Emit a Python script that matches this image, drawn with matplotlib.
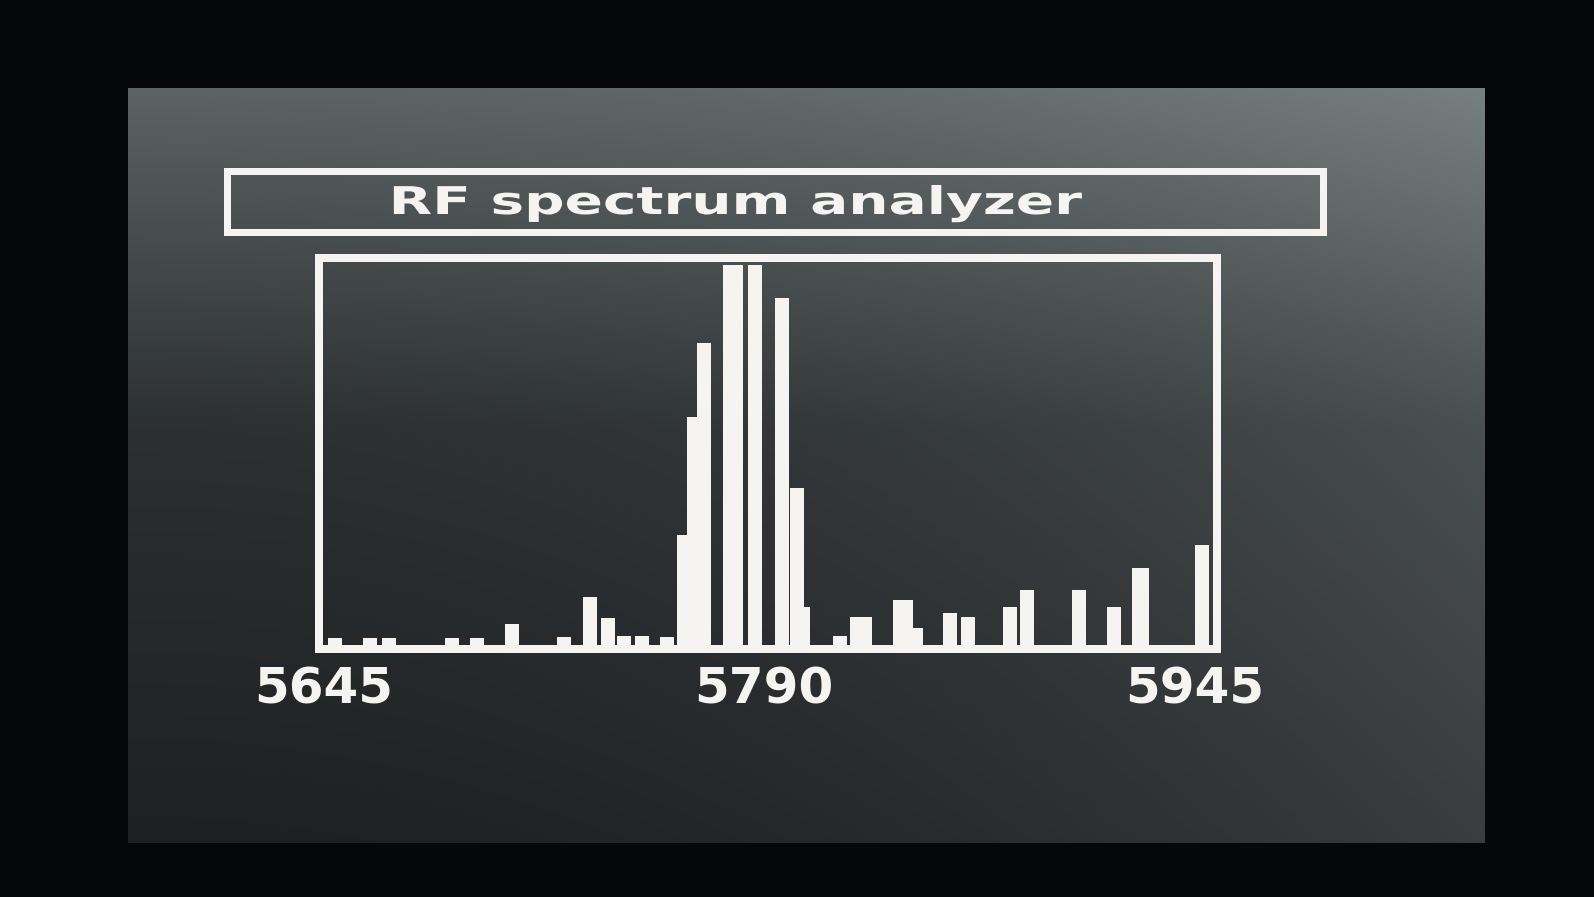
import numpy as np
import matplotlib
matplotlib.use("Agg")
import matplotlib.pyplot as plt
from matplotlib.patches import Rectangle
from matplotlib.patheffects import AbstractPathEffect
from matplotlib.transforms import Affine2D, ScaledTranslation

# ---- data ----
title_text = "RF spectrum analyzer"
freqs_mhz = [5646.7, 5658.5, 5664.9, 5686.2, 5694.6, 5706.4, 5724.0, 5732.7,
             5738.8, 5744.2, 5750.3, 5758.7, 5764.4, 5767.8, 5771.2, 5780.0,
             5782.0, 5788.4, 5797.5, 5802.6, 5804.6, 5817.1, 5822.8, 5825.5,
             5837.4, 5839.4, 5842.7, 5854.2, 5860.3, 5874.5, 5880.2, 5897.8,
             5909.6, 5918.0, 5919.0, 5939.3]
levels = [1.8, 1.8, 1.8, 1.8, 1.8, 5.5, 2.1, 12.6,
          7.1, 2.4, 2.4, 2.1, 29.0, 60.0, 79.5, 100.0,
          100.0, 100.0, 91.3, 41.3, 10.0, 2.4, 7.4, 7.4,
          11.8, 11.8, 4.5, 8.4, 7.4, 10.0, 14.5, 14.5,
          10.0, 20.3, 20.3, 26.3]
tick_values = [5645, 5790, 5945]
tick_labels = ["5645", "5790", "5945"]

WHITE = "#f6f4f0"


class HStretch(AbstractPathEffect):
    """Stretch drawn text horizontally about a display x position."""
    def __init__(self, sx, cx):
        super().__init__()
        self.sx, self.cx = sx, cx

    def draw_path(self, renderer, gc, tpath, affine, rgbFace=None):
        a = affine + Affine2D().translate(-self.cx, 0).scale(self.sx, 1).translate(self.cx, 0)
        renderer.draw_path(gc, tpath, a, rgbFace)


# ---- figure ----
W, H = 1594, 897
fig = plt.figure(figsize=(W / 100, H / 100), dpi=100)
fig.patch.set_facecolor("#060708")

# background: screen with photographic gradient
bg = fig.add_axes([0, 0, 1, 1])
bg.set_xlim(0, W)
bg.set_ylim(H, 0)
bg.axis("off")


def hx(c):
    return np.array([int(c[i:i + 2], 16) for i in (1, 3, 5)]) / 255


rows_v = [0.0, 0.45, 1.0]
rows_l = [hx("#5d6263"), hx("#2c3032"), hx("#1f2022")]
rows_r = [hx("#76807f"), hx("#4a4f50"), hx("#3a3d3f")]
nu, nv = 400, 300
u = (np.linspace(0, 1, nu) ** 2)[None, :, None]
vv = np.linspace(0, 1, nv)
left = np.stack([np.interp(vv, rows_v, [r[k] for r in rows_l]) for k in range(3)], axis=-1)
right = np.stack([np.interp(vv, rows_v, [r[k] for r in rows_r]) for k in range(3)], axis=-1)
grad = (1 - u) * left[:, None, :] + u * right[:, None, :]
bg.imshow(grad, extent=[128, 1485, 843, 88], aspect="auto", zorder=0)

# title box
bg.add_patch(Rectangle((227.5, 171.5), 1096, 61, fill=False,
                       edgecolor=WHITE, linewidth=7 * 0.72, zorder=2))
title_cx = 736
fig.text(title_cx / W, 1 - 214 / H, title_text, ha="center", va="baseline",
         color=WHITE, fontsize=27.5, fontweight="bold", family="DejaVu Sans",
         path_effects=[HStretch(1.48, title_cx)])

# plot box
x0, x1, yt, yb = 319, 1217, 258, 649
ax = fig.add_axes([x0 / W, 1 - yb / H, (x1 - x0) / W, (yb - yt) / H])
ax.set_facecolor("none")
ax.bar(freqs_mhz, levels, width=4.8, align="edge", color=WHITE,
       edgecolor="none", zorder=2)
ax.set_xlim(5643.65, 5946.7)
ax.set_ylim(-1.05, 101.8)
for s in ax.spines.values():
    s.set_color(WHITE)
    s.set_linewidth(8 * 0.72)
    s.set_zorder(3)
ax.set_yticks([])
ax.set_xticks(tick_values, labels=tick_labels)
ax.tick_params(axis="x", length=0, pad=12, colors=WHITE, labelsize=36)
label_shift_px = [1, 11, -17]
for lab, dx in zip(ax.get_xticklabels(), label_shift_px):
    lab.set_fontweight("bold")
    lab.set_transform(lab.get_transform() + ScaledTranslation(dx / 100, 0, fig.dpi_scale_trans))

fig.savefig("out.png", dpi=100, facecolor=fig.get_facecolor())
